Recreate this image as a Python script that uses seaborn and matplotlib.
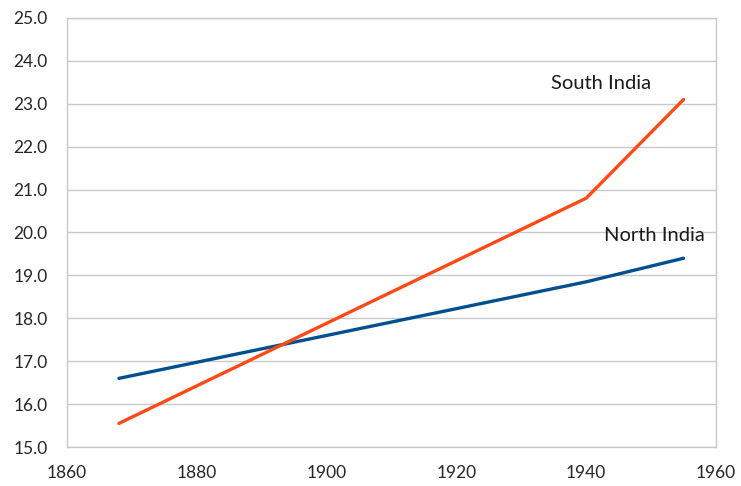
import matplotlib
matplotlib.use("Agg")
import matplotlib.pyplot as plt
import pandas as pd
import seaborn as sns

# Series values
north_years = [1868, 1940, 1955]
north_values = [16.6, 18.85, 19.4]
south_years = [1868, 1940, 1955]
south_values = [15.55, 20.8, 23.1]

x_ticks = [1860, 1880, 1900, 1920, 1940, 1960]
y_ticks = [15, 16, 17, 18, 19, 20, 21, 22, 23, 24, 25]

df = pd.concat([
    pd.DataFrame({"year": north_years, "value": north_values, "region": "North India"}),
    pd.DataFrame({"year": south_years, "value": south_values, "region": "South India"}),
])

sns.set_theme(style="white")
plt.rcParams["font.family"] = ["Lato", "DejaVu Sans"]

fig = plt.figure(figsize=(7.41, 4.86), dpi=100)
ax = fig.add_axes([67 / 741, 1 - 447 / 486, (716 - 67) / 741, (447 - 18) / 486])

palette = {"North India": "#00508F", "South India": "#FF4A17"}
sns.lineplot(data=df, x="year", y="value", hue="region", palette=palette,
             linewidth=2.4, ax=ax, legend=False, sort=True,
             solid_capstyle="round")

ax.set_xlim(1860, 1960)
ax.set_ylim(15, 25)
ax.set_xticks(x_ticks)
ax.set_yticks(y_ticks)
ax.set_yticklabels([f"{v:.1f}" for v in y_ticks])
ax.set_xlabel("")
ax.set_ylabel("")
ax.grid(axis="y", color="#C8C8C8", linewidth=1.0)
ax.grid(axis="x", visible=False)
ax.set_axisbelow(True)
for side in ax.spines.values():
    side.set_color("#C8C8C8")
    side.set_linewidth(1.0)
ax.tick_params(axis="both", length=0, labelsize=12.5, colors="#262626")
ax.tick_params(axis="y", pad=14)
ax.tick_params(axis="x", pad=13)

ax.text(1934.5, 23.48, "South India", fontsize=14.5, color="#1a1a1a",
        ha="left", va="center")
ax.text(1942.7, 19.92, "North India", fontsize=14.5, color="#1a1a1a",
        ha="left", va="center")

fig.savefig("out.png", dpi=100)
